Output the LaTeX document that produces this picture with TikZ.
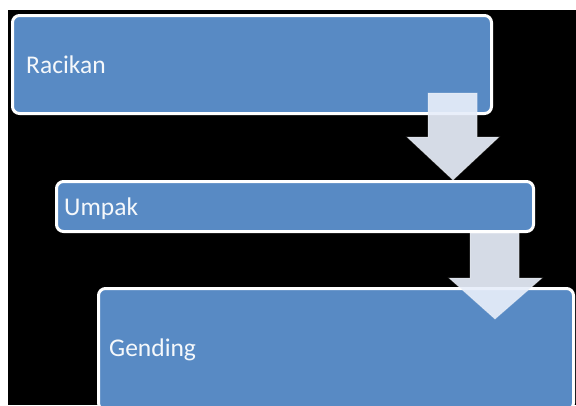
\documentclass[tikz,border=0pt]{standalone}
\usepackage{fontspec}
\setmainfont{Carlito}
\definecolor{boxblue}{RGB}{88,138,196}
\definecolor{arrowfill}{RGB}{232,238,250}
\tikzset{
  stagebox/.style={draw=white, line width=3pt, fill=boxblue, rounded corners=7pt},
  stagetext/.style={text=white!94!boxblue, font=\fontsize{25.5}{30}\selectfont, anchor=base west, inner sep=0pt},
  flowarrow/.style={fill=arrowfill, fill opacity=0.92, draw=white, draw opacity=0.3, line width=1pt}
}
\begin{document}
\begin{tikzpicture}[x=1pt, y=-1pt]
  % page area with white frame and black backdrop
  \useasboundingbox (0,0) rectangle (576,405);
  \fill[white] (0,0) rectangle (576,405);
  \fill[black] (8,10) rectangle (576,405);
  \begin{scope}
    \clip (0,0) rectangle (576,405);
    % stage 1
    \draw[stagebox] (12.5,15.5) rectangle (491.5,113.5);
    \node[stagetext] (racikan) at (26,73) {Racikan};
    % arrow 1 -> 2
    \path[flowarrow] (428,93) -- (477,93) -- (477,137) -- (499,137) -- (453,180)
      -- (407,137) -- (428,137) -- cycle;
    % stage 2
    \draw[stagebox] (56.5,181.5) rectangle (533.5,231.5);
    \node[stagetext] (umpak) at (64,215) {Umpak};
    % stage 3
    \draw[stagebox] (98.5,288.5) rectangle (573.5,410);
    \node[stagetext] (gending) at (109,356) {Gending};
    % arrow 2 -> 3
    \path[flowarrow] (470,233) -- (519,233) -- (519,278) -- (542,278) -- (495,319)
      -- (449,278) -- (470,278) -- cycle;
  \end{scope}
\end{tikzpicture}
\end{document}
